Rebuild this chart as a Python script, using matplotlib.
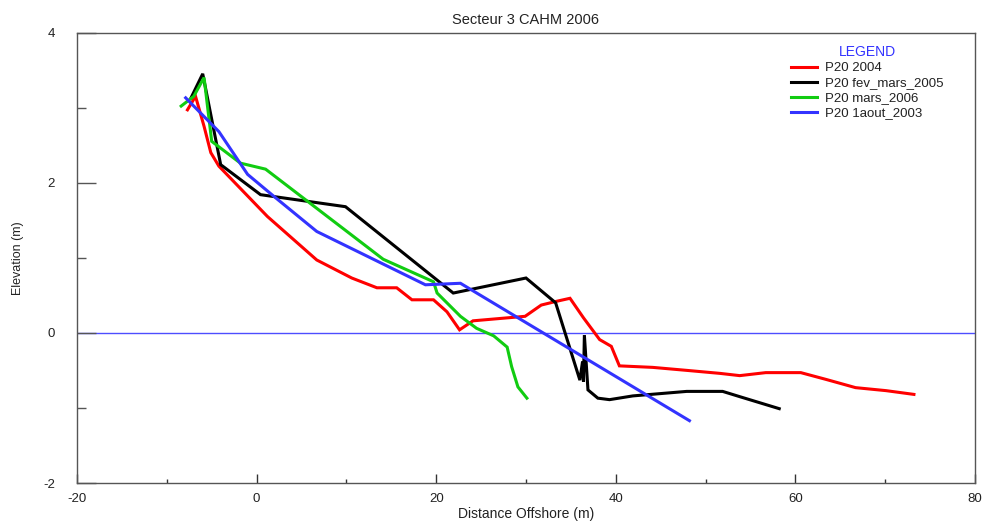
import matplotlib
matplotlib.use("Agg")
import matplotlib.pyplot as plt
from matplotlib.ticker import MultipleLocator
from matplotlib.lines import Line2D

plt.rcParams['font.family'] = ['Liberation Sans', 'DejaVu Sans']
plt.rcParams['axes.unicode_minus'] = False

# Beach profile P20 surveys: distance offshore (m) and elevation (m)
x_2004 = [-7.7, -6.8, -5.85, -5.1, -4.2, 1.2, 6.7, 10.6, 13.4, 15.6, 17.3, 19.7,
          21.2, 22.6, 24.1, 29.9, 31.7, 33.4, 34.9, 36.4, 38.2, 39.5, 40.4,
          44.1, 47.9, 51.6, 53.8, 56.7, 60.6, 63.4, 66.7, 70.1, 73.2]
y_2004 = [2.97, 3.15, 2.75, 2.40, 2.22, 1.55, 0.97, 0.73, 0.60, 0.60, 0.44, 0.44,
          0.28, 0.04, 0.16, 0.22, 0.37, 0.42, 0.46, 0.20, -0.09, -0.18, -0.44,
          -0.46, -0.50, -0.54, -0.57, -0.53, -0.53, -0.62, -0.73, -0.77, -0.82]

x_2005 = [-7.3, -6.0, -4.0, 0.44, 9.9, 21.9, 30.0, 33.3, 36.0, 36.3, 36.4,
          36.5, 36.9, 38.0, 39.3, 41.9, 47.9, 51.9, 53.8, 58.2]
y_2005 = [3.13, 3.45, 2.24, 1.84, 1.68, 0.53, 0.73, 0.40, -0.63, -0.38, -0.65,
          -0.03, -0.76, -0.87, -0.89, -0.84, -0.78, -0.78, -0.85, -1.01]

x_2006 = [-8.4, -7.0, -5.85, -5.0, -1.8, 1.0, 14.1, 19.7, 20.1, 22.7, 24.5,
          26.4, 27.9, 28.4, 29.1, 30.1]
y_2006 = [3.02, 3.15, 3.40, 2.55, 2.26, 2.18, 0.98, 0.68, 0.53, 0.22, 0.06,
          -0.04, -0.19, -0.45, -0.72, -0.87]

x_2003 = [-7.9, -4.2, -1.0, 1.9, 6.7, 18.8, 22.7, 48.2]
y_2003 = [3.13, 2.68, 2.11, 1.82, 1.35, 0.64, 0.66, -1.17]

series = [
    (x_2004, y_2004, "#ff0000", "P20 2004"),
    (x_2005, y_2005, "#000000", "P20 fev_mars_2005"),
    (x_2006, y_2006, "#11cc11", "P20 mars_2006"),
    (x_2003, y_2003, "#3333ff", "P20 1aout_2003"),
]

W, H = 982, 522
fig = plt.figure(figsize=(W / 100, H / 100), dpi=100)
ax = fig.add_axes([77 / W, 1 - 483 / H, 898 / W, 450.5 / H])

# Mean sea level reference
ax.axhline(0, color="#4d4dff", lw=1.0, zorder=1)

handles = []
for xs, ys, c, lab in series:
    ax.plot(xs, ys, color=c, lw=2.2, solid_joinstyle="miter", zorder=3)
    handles.append(Line2D([0], [0], color=c, lw=2.2, label=lab))

ax.set_xlim(-20, 80)
ax.set_ylim(-2, 4)
ax.xaxis.set_major_locator(MultipleLocator(20))
ax.xaxis.set_minor_locator(MultipleLocator(10))
ax.yaxis.set_major_locator(MultipleLocator(2))
ax.yaxis.set_minor_locator(MultipleLocator(1))

spine_c = "#555555"
for s in ax.spines.values():
    s.set_color(spine_c)
    s.set_linewidth(1.0)

ax.tick_params(axis="x", which="major", direction="in", length=6.5, width=1,
               color="#333333", pad=7, labelsize=9.5, labelcolor="#222222")
ax.tick_params(axis="x", which="minor", direction="in", length=3, width=1,
               color="#333333")
ax.tick_params(axis="y", which="major", direction="in", length=13.5, width=1,
               color="#555555", pad=16, labelsize=9.5, labelcolor="#222222")
ax.tick_params(axis="y", which="minor", direction="in", length=6.5, width=1,
               color="#555555")

ax.set_title("Secteur 3 CAHM 2006", fontsize=10.5, color="#222222", pad=6)
ax.set_xlabel("Distance Offshore (m)", fontsize=10, color="#222222")
ax.xaxis.set_label_coords(0.5, -0.053)
ax.set_ylabel("Elevation (m)", fontsize=9, color="#222222")
ax.yaxis.set_label_coords(-0.059, 0.5)

leg = ax.legend(handles=handles, title="LEGEND", frameon=False, fontsize=9.5,
                title_fontsize=10, loc="upper left",
                bbox_to_anchor=(791 / W, 1 - 45 / H),
                bbox_transform=fig.transFigure,
                handlelength=2.0, handletextpad=0.6, labelspacing=0.22,
                borderpad=0.0, borderaxespad=0.0)
leg.get_title().set_color("#3333ff")
for t in leg.get_texts():
    t.set_color("#222222")

fig.savefig("out.png", dpi=100, facecolor="white")
